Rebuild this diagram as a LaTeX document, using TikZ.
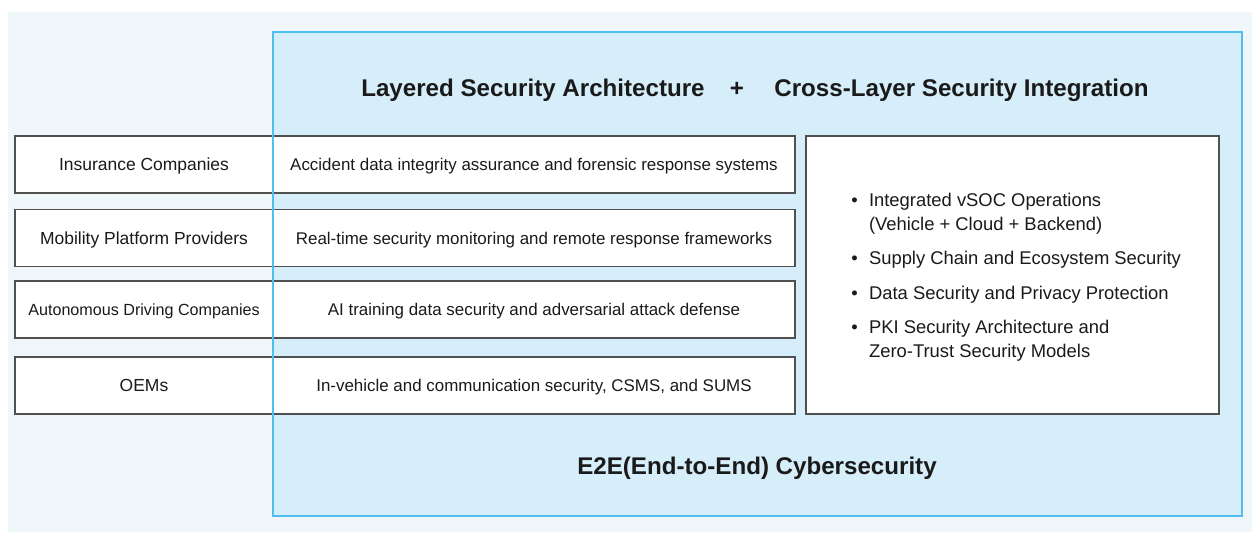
\documentclass[tikz,border=0pt]{standalone}
\usepackage{fontspec}
\setmainfont{Liberation Sans}
\usetikzlibrary{positioning}

\begin{document}
\begin{tikzpicture}[
    x=0.75pt,
    y=-0.75pt,
    rowbox/.style={
        draw=boxgray,
        fill=white,
        line width=1.1pt,
        minimum width=585pt,
        minimum height=42.75pt,
        inner sep=0pt
    },
    listbox/.style={
        draw=boxgray,
        fill=white,
        line width=1.1pt,
        minimum width=309.75pt,
        minimum height=208.5pt,
        inner sep=0pt
    },
    who/.style={
        anchor=base,
        text=inkdark,
        font=\fontsize{13.1}{15}\selectfont,
        inner sep=0pt
    },
    what/.style={
        anchor=base,
        text=inkdark,
        font=\fontsize{12.7}{15}\selectfont,
        inner sep=0pt
    },
    headline/.style={
        anchor=base,
        text=inkdark,
        font=\fontsize{18.1}{21}\selectfont\bfseries,
        inner sep=0pt
    }
]

\definecolor{pagetint}{RGB}{239,247,250}
\definecolor{framefill}{RGB}{214,238,249}
\definecolor{frameline}{RGB}{79,190,240}
\definecolor{boxgray}{RGB}{80,80,80}
\definecolor{inkdark}{RGB}{26,26,26}

\useasboundingbox (0,0) rectangle (1252,532);
\fill[white] (0,0) rectangle (1252,532);
\fill[pagetint] (8,12) rectangle (1252,532);
\fill[framefill] (273,32) rectangle (1242,516);

% stakeholder rows
\node[rowbox] (ins) at (405,164.5) {};
\node[rowbox] (mob) at (405,238) {};
\node[rowbox] (aut) at (405,309.5) {};
\node[rowbox] (oem) at (405,385.5) {};

\node[listbox] (xl) at (1012.5,275) {};

\draw[frameline, line width=0.9pt] (273,32) rectangle (1242,516);

\coordinate (lcol) at (144,6);
\coordinate (rcol) at (534,6);

\node[who] (insL) at ([yshift=-4.5pt]ins -| lcol) {Insurance Companies};
\node[what] (insR) at ([yshift=-4.5pt]ins -| rcol) {Accident data integrity assurance and forensic response systems};

\node[who] (mobL) at ([yshift=-4.5pt]mob -| lcol) {Mobility Platform Providers};
\node[what] (mobR) at ([yshift=-4.5pt]mob -| rcol) {Real-time security monitoring and remote response frameworks};

\node[who, font=\fontsize{12.1}{15}\selectfont] (autL) at ([yshift=-4.5pt]aut -| lcol) {Autonomous Driving Companies};
\node[what] (autR) at ([yshift=-4.5pt]aut -| rcol) {AI training data security and adversarial attack defense};

\node[who] (oemL) at ([yshift=-4.5pt]oem -| lcol) {OEMs};
\node[what] (oemR) at ([yshift=-4.5pt]oem -| rcol) {In-vehicle and communication security, CSMS, and SUMS};

% cross-layer list
\node[anchor=base west, text=inkdark, inner sep=0pt, font=\fontsize{13.8}{18.2}\selectfont] (xlist) at (851,206) {%
\begin{tabular}[t]{@{}l@{\hspace{8.5pt}}l@{}}
\textbullet & Integrated vSOC Operations\\
            & (Vehicle + Cloud + Backend)\\[7.6pt]
\textbullet & Supply Chain and Ecosystem Security\\[7.6pt]
\textbullet & Data Security and Privacy Protection\\[7.6pt]
\textbullet & PKI Security Architecture and\\
            & Zero-Trust Security Models
\end{tabular}};

% headings
\node[headline] (layered) at (533,96) {Layered Security Architecture};
\node[headline] (plus) at (737,96) {+};
\node[headline] (cross) at (961.5,96) {Cross-Layer Security Integration};
\node[headline] (e2e) at (757,474) {E2E(End-to-End) Cybersecurity};

\end{tikzpicture}
\end{document}
